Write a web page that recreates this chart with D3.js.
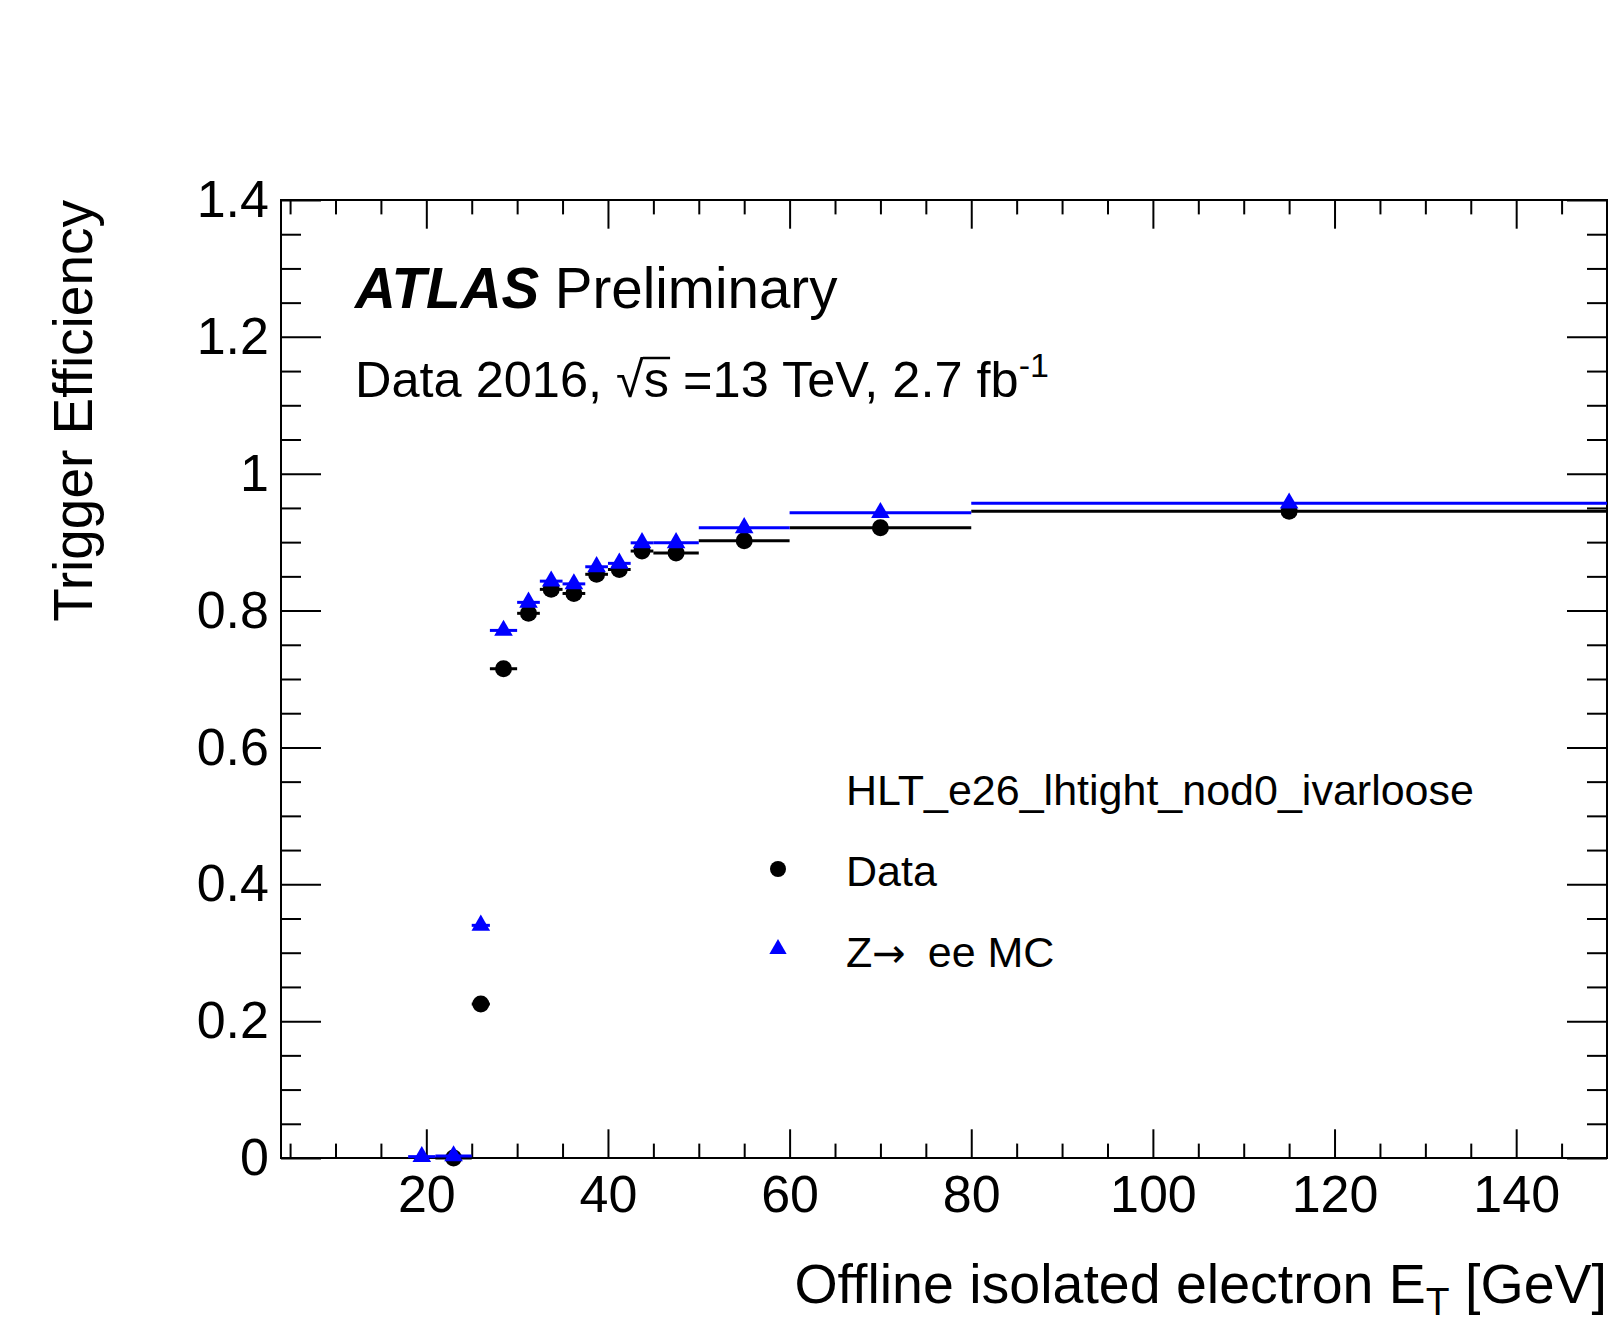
<!DOCTYPE html>
<html><head><meta charset="utf-8">
<script src="https://cdn.jsdelivr.net/npm/d3@7"></script>
<style>
body{margin:0;background:#fff}
svg{display:block}
text{font-family:"Liberation Sans",Arial,Helvetica,sans-serif;fill:#000}
</style>
</head><body>
<svg id="c" width="1612" height="1323"></svg>
<script>
// ---- data ----
const binEdges = [18,21,25,27,30,32.5,35,37.5,40,42.5,45,50,60,80,150];
const dataEff  = [null,0.000,0.225,0.715,0.796,0.831,0.825,0.853,0.860,0.887,0.884,0.902,0.921,0.945];
const mcEff    = [0.002,0.003,0.340,0.771,0.812,0.843,0.839,0.864,0.869,0.899,0.899,0.921,0.943,0.957];
const xMajorTicks = [20,40,60,80,100,120,140];
const xTickLabels = ["20","40","60","80","100","120","140"];
const yMajorTicks = [0,0.2,0.4,0.6,0.8,1.0,1.2,1.4];
const yTickLabels = ["0","0.2","0.4","0.6","0.8","1","1.2","1.4"];
const xDomain = [4,150];
const yDomain = [0,1.4];

// ---- layout ----
const L=281, R=1607, T=200, B=1158;
const svg = d3.select("#c");
const x = d3.scaleLinear().domain(xDomain).range([L,R]);
const y = d3.scaleLinear().domain(yDomain).range([B,T]);

const xMinor = d3.range(5,150,5).filter(v=>!xMajorTicks.includes(v));
const yMinor = d3.range(0,1.4001,0.05).map(v=>+v.toFixed(2)).filter(v=>!yMajorTicks.some(m=>Math.abs(m-v)<1e-6));

function styleAxis(g){
  g.select(".domain").remove();
  g.selectAll("line").attr("stroke","#000").attr("stroke-width",2);
  g.selectAll("text").attr("font-size",52).attr("font-family",'"Liberation Sans",Arial,sans-serif').attr("fill","#000");
}
const xMajLen=28.7, xMinLen=14.4, yMajLen=40, yMinLen=20;

// bottom
svg.append("g").attr("transform",`translate(0,${B})`)
  .call(d3.axisBottom(x).tickValues(xMajorTicks).tickSizeInner(-xMajLen).tickSizeOuter(0).tickPadding(17)
    .tickFormat((d,i)=>xTickLabels[i])).call(styleAxis);
svg.append("g").attr("transform",`translate(0,${B})`)
  .call(d3.axisBottom(x).tickValues(xMinor).tickSizeInner(-xMinLen).tickSizeOuter(0).tickFormat("")).call(styleAxis);
// top
svg.append("g").attr("transform",`translate(0,${T})`)
  .call(d3.axisTop(x).tickValues(xMajorTicks).tickSizeInner(-xMajLen).tickSizeOuter(0).tickFormat("")).call(styleAxis);
svg.append("g").attr("transform",`translate(0,${T})`)
  .call(d3.axisTop(x).tickValues(xMinor).tickSizeInner(-xMinLen).tickSizeOuter(0).tickFormat("")).call(styleAxis);
// left
svg.append("g").attr("transform",`translate(${L},0)`)
  .call(d3.axisLeft(y).tickValues(yMajorTicks).tickSizeInner(-yMajLen).tickSizeOuter(0).tickPadding(12)
    .tickFormat((d,i)=>yTickLabels[i])).call(styleAxis);
svg.append("g").attr("transform",`translate(${L},0)`)
  .call(d3.axisLeft(y).tickValues(yMinor).tickSizeInner(-yMinLen).tickSizeOuter(0).tickFormat("")).call(styleAxis);
// right
svg.append("g").attr("transform",`translate(${R},0)`)
  .call(d3.axisRight(y).tickValues(yMajorTicks).tickSizeInner(-yMajLen).tickSizeOuter(0).tickFormat("")).call(styleAxis);
svg.append("g").attr("transform",`translate(${R},0)`)
  .call(d3.axisRight(y).tickValues(yMinor).tickSizeInner(-yMinLen).tickSizeOuter(0).tickFormat("")).call(styleAxis);

// frame
svg.append("rect").attr("x",L).attr("y",T).attr("width",R-L).attr("height",B-T)
  .attr("fill","none").attr("stroke","#000").attr("stroke-width",2);

// ---- series ----
function bins(eff){
  return eff.map((v,i)=>({lo:binEdges[i],hi:binEdges[i+1],c:(binEdges[i]+binEdges[i+1])/2,v})).filter(d=>d.v!==null);
}
const dataBins = bins(dataEff), mcBins = bins(mcEff);

const gD = svg.append("g");
gD.selectAll("line").data(dataBins).join("line")
  .attr("x1",d=>x(d.lo)).attr("x2",d=>x(d.hi)).attr("y1",d=>y(d.v)).attr("y2",d=>y(d.v))
  .attr("stroke","#000").attr("stroke-width",3);
gD.selectAll("circle").data(dataBins).join("circle")
  .attr("cx",d=>x(d.c)).attr("cy",d=>y(d.v)).attr("r",8.5).attr("fill","#000");

const tri = d3.symbol().type(d3.symbolTriangle).size(150);
const gM = svg.append("g");
gM.selectAll("line").data(mcBins).join("line")
  .attr("x1",d=>x(d.lo)).attr("x2",d=>x(d.hi)).attr("y1",d=>y(d.v)).attr("y2",d=>y(d.v))
  .attr("stroke","#0000ff").attr("stroke-width",3);
gM.selectAll("path").data(mcBins).join("path")
  .attr("d",tri).attr("transform",d=>`translate(${x(d.c)},${y(d.v)})`).attr("fill","#0000ff");

// ---- titles ----
svg.append("text").attr("transform",`translate(92,${T}) rotate(-90)`).attr("text-anchor","end")
  .attr("font-size",55).text("Trigger Efficiency");

const xt = svg.append("text").attr("x",R).attr("y",1303).attr("text-anchor","end").attr("font-size",55.5);
xt.append("tspan").text("Offline isolated electron E");
xt.append("tspan").attr("font-size",39).attr("dy",12).text("T");
xt.append("tspan").attr("dy",-12).text(" [GeV]");

// ATLAS label
const at = svg.append("text").attr("x",355).attr("y",308).attr("font-size",56.5);
at.append("tspan").attr("font-weight","bold").attr("font-style","italic").text("ATLAS");
at.append("tspan").text(" Preliminary");

const dt = svg.append("text").attr("x",355).attr("y",397).attr("font-size",50.5);
dt.append("tspan").text("Data 2016, \u221As =13 TeV, 2.7 fb");
dt.append("tspan").attr("font-size",34).attr("dy",-20).text("-1");
// overline of sqrt
{
  const n = dt.node();
  const p0 = n.getEndPositionOfChar(11);
  const p1 = n.getEndPositionOfChar(12);
  svg.append("line").attr("x1",p0.x-1).attr("x2",p1.x+1).attr("y1",397-39).attr("y2",397-39)
    .attr("stroke","#000").attr("stroke-width",2.5);
}

// legend
svg.append("text").attr("x",846).attr("y",805).attr("font-size",43).text("HLT_e26_lhtight_nod0_ivarloose");
svg.append("circle").attr("cx",778).attr("cy",869).attr("r",8).attr("fill","#000");
svg.append("text").attr("x",846).attr("y",886).attr("font-size",43).text("Data");
svg.append("path").attr("d",d3.symbol().type(d3.symbolTriangle).size(130)).attr("transform","translate(778,949)").attr("fill","#0000ff");
const zt = svg.append("text").attr("x",846).attr("y",967).attr("font-size",43);
zt.append("tspan").text("Z");
zt.append("tspan").attr("font-family",'"DejaVu Sans",sans-serif').attr("font-size",40).text("\u2192");
zt.append("tspan").attr("dx",10).text(" ee MC");
</script>
</body></html>
